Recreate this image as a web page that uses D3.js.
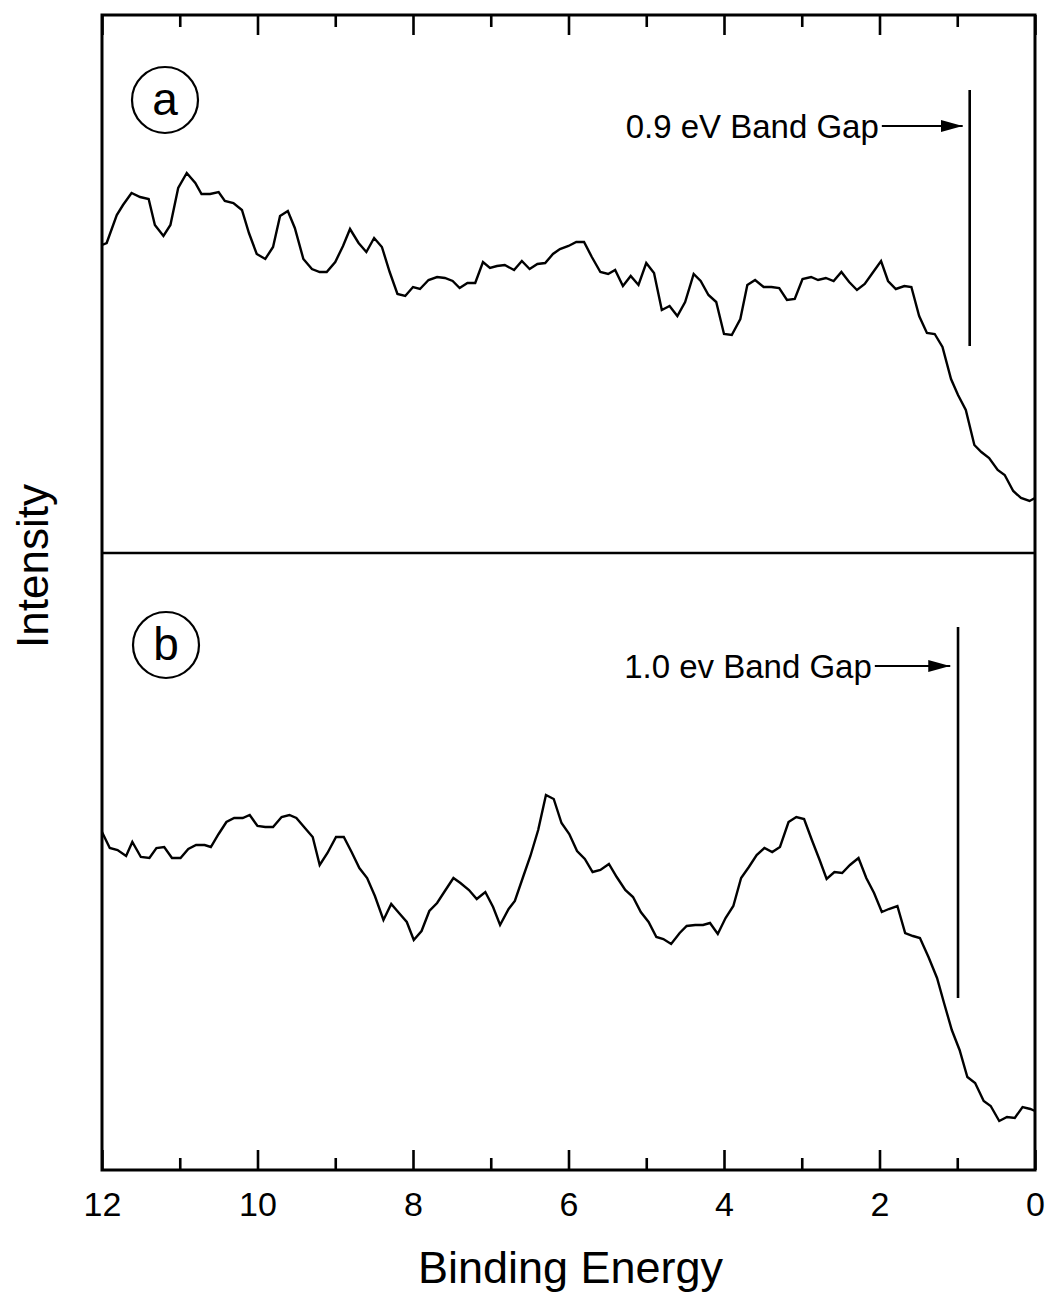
<!DOCTYPE html>
<html>
<head>
<meta charset="utf-8">
<script src="https://cdn.jsdelivr.net/npm/d3@7"></script>
<style>
  html, body { margin: 0; padding: 0; background: #fff; }
  svg { display: block; }
  text { font-family: "Liberation Sans", Arial, Helvetica, sans-serif; fill: #000; }
</style>
</head>
<body>
<svg id="chart" width="1052" height="1300"></svg>
<script>
// ---- Data (binding energy in eV, intensity in arbitrary units) ----
const energyA = [12.0,11.94,11.81,11.73,11.62,11.51,11.40,11.32,11.21,11.12,11.02,10.91,10.80,10.72,10.61,10.50,10.42,10.31,10.20,10.11,10.01,9.90,9.80,9.71,9.61,9.52,9.41,9.30,9.20,9.11,9.00,8.90,8.81,8.70,8.60,8.50,8.40,8.30,8.20,8.10,8.00,7.91,7.80,7.69,7.59,7.49,7.40,7.30,7.20,7.10,7.01,6.92,6.82,6.70,6.60,6.50,6.40,6.30,6.20,6.11,6.00,5.90,5.80,5.70,5.59,5.49,5.40,5.30,5.20,5.10,5.00,4.90,4.80,4.70,4.60,4.50,4.39,4.30,4.20,4.10,4.00,3.90,3.79,3.70,3.60,3.49,3.39,3.29,3.19,3.09,2.99,2.88,2.79,2.69,2.59,2.49,2.39,2.29,2.19,2.09,1.98,1.89,1.79,1.68,1.59,1.49,1.39,1.29,1.19,1.08,0.99,0.89,0.78,0.69,0.59,0.48,0.39,0.28,0.18,0.07,0.0];
const intensityA = [308,310,338,348,360,356,354,328,317,328,365,380,370,359,359,361,352,350,343,320,299,294,306,337,342,325,294,284,281,281,291,307,324,310,301,315,306,281,259,257,266,264,273,276,275,272,265,270,270,291,285,287,288,283,292,284,289,290,299,304,307,311,311,296,281,279,283,267,277,268,290,280,243,247,237,251,279,272,258,251,219,218,234,268,273,266,266,265,253,254,274,276,273,275,272,281,271,263,269,280,292,272,264,267,266,237,220,219,206,174,158,143,108,101,95,83,78,62,55,52,55];

const energyB = [12.0,11.90,11.80,11.69,11.61,11.50,11.39,11.30,11.20,11.10,10.99,10.89,10.79,10.68,10.60,10.50,10.40,10.30,10.19,10.10,10.00,9.90,9.80,9.69,9.59,9.50,9.39,9.29,9.20,9.10,8.99,8.89,8.79,8.69,8.59,8.49,8.38,8.28,8.18,8.08,7.99,7.89,7.79,7.69,7.59,7.48,7.39,7.28,7.18,7.07,6.97,6.88,6.77,6.69,6.58,6.49,6.39,6.29,6.19,6.09,5.99,5.89,5.79,5.69,5.59,5.48,5.38,5.27,5.17,5.07,4.97,4.87,4.78,4.68,4.57,4.48,4.37,4.27,4.18,4.08,3.98,3.88,3.78,3.68,3.58,3.48,3.38,3.28,3.17,3.07,2.97,2.87,2.77,2.68,2.58,2.48,2.38,2.27,2.17,2.07,1.97,1.88,1.77,1.67,1.57,1.48,1.37,1.26,1.17,1.07,0.97,0.87,0.77,0.66,0.57,0.46,0.36,0.26,0.16,0.06,0.0];
const intensityB = [338,322,320,314,328,313,312,322,323,312,312,321,325,325,323,336,348,352,352,355,344,343,343,353,355,352,342,333,305,317,333,333,318,302,292,274,250,266,257,248,230,239,259,267,279,292,287,280,271,278,263,245,261,269,294,314,340,375,371,347,336,319,311,298,300,306,293,280,273,258,248,233,231,226,237,244,245,245,247,236,252,264,292,303,315,322,318,323,348,353,351,330,310,291,298,297,305,312,292,277,258,261,264,237,234,232,213,192,167,140,120,93,87,69,64,49,53,52,63,61,59];

const xTicksMajor = [12, 10, 8, 6, 4, 2, 0];
const xTicksMinor = [11, 9, 7, 5, 3, 1];
const xTickLabels = ["12", "10", "8", "6", "4", "2", "0"];
const xTitle = "Binding Energy";
const yTitle = "Intensity";
const panelLabels = ["a", "b"];
const gapLabels = ["0.9 eV Band Gap", "1.0 ev Band Gap"];
// band gap markers: vertical line energy/extent, arrow level and span (same units as the data)
const gapA = { e: 0.84, top: 463, bottom: 207, arrowY: 427, arrowFrom: 1.97, arrowTo: 0.93 };
const gapB = { e: 0.99, top: 543, bottom: 172, arrowY: 504, arrowFrom: 2.06, arrowTo: 1.09 };

// ---- Layout ----
const L = 102, R = 1035, T = 15, B = 1170, MID = 553;
const svg = d3.select("#chart");

svg.append("defs").append("marker")
  .attr("id", "arrow").attr("viewBox", "0 0 22 12")
  .attr("refX", 22).attr("refY", 6)
  .attr("markerWidth", 22).attr("markerHeight", 12)
  .attr("markerUnits", "userSpaceOnUse")
  .attr("orient", "auto")
  .append("path").attr("d", "M0,0 L22,6 L0,12 z").attr("fill", "#000");

const x = d3.scaleLinear().domain([12, 0]).range([L, R]);
const yA = d3.scaleLinear().domain([0, 538]).range([MID, T]);
const yB = d3.scaleLinear().domain([0, 617]).range([B, MID]);

// Axes: major ticks with labels and minor ticks, bottom and top
const bottomMajor = svg.append("g").attr("transform", `translate(0,${B})`)
  .call(d3.axisBottom(x).tickValues(xTicksMajor).tickSizeInner(-20).tickSizeOuter(0).tickPadding(22)
    .tickFormat((d, i) => xTickLabels[i]));
const bottomMinor = svg.append("g").attr("transform", `translate(0,${B})`)
  .call(d3.axisBottom(x).tickValues(xTicksMinor).tickSizeInner(-12).tickSizeOuter(0).tickFormat(""));
const topMajor = svg.append("g").attr("transform", `translate(0,${T})`)
  .call(d3.axisTop(x).tickValues(xTicksMajor).tickSizeInner(-20).tickSizeOuter(0).tickFormat(""));
const topMinor = svg.append("g").attr("transform", `translate(0,${T})`)
  .call(d3.axisTop(x).tickValues(xTicksMinor).tickSizeInner(-12).tickSizeOuter(0).tickFormat(""));

[bottomMajor, bottomMinor, topMajor, topMinor].forEach(g => {
  g.select(".domain").remove();
  g.selectAll(".tick line").attr("stroke", "#000").attr("stroke-width", 2.6);
});
bottomMajor.selectAll(".tick text")
  .attr("font-size", 34).attr("font-family", "Liberation Sans, Arial, sans-serif").attr("fill", "#000");

// Frame
svg.append("rect").attr("x", L).attr("y", T).attr("width", R - L).attr("height", B - T)
  .attr("fill", "none").attr("stroke", "#000").attr("stroke-width", 3);
// Separator between panels
svg.append("line").attr("x1", L).attr("x2", R).attr("y1", MID).attr("y2", MID)
  .attr("stroke", "#000").attr("stroke-width", 2.6);

// Curves
function drawCurve(energy, intensity, y) {
  const pts = energy.map((e, i) => [e, intensity[i]]);
  svg.append("path").datum(pts)
    .attr("fill", "none").attr("stroke", "#000").attr("stroke-width", 2.4)
    .attr("stroke-linejoin", "miter")
    .attr("d", d3.line().x(d => x(d[0])).y(d => y(d[1])));
}
drawCurve(energyA, intensityA, yA);
drawCurve(energyB, intensityB, yB);

// Band gap markers
function drawGap(g, y, label) {
  svg.append("line").attr("x1", x(g.e)).attr("x2", x(g.e))
    .attr("y1", y(g.top)).attr("y2", y(g.bottom))
    .attr("stroke", "#000").attr("stroke-width", 2.6);
  svg.append("line").attr("x1", x(g.arrowFrom)).attr("x2", x(g.arrowTo))
    .attr("y1", y(g.arrowY)).attr("y2", y(g.arrowY))
    .attr("stroke", "#000").attr("stroke-width", 2.2)
    .attr("marker-end", "url(#arrow)");
  svg.append("text").attr("x", x(g.arrowFrom) - 3).attr("y", y(g.arrowY) + 12)
    .attr("text-anchor", "end").attr("font-size", 33).text(label);
}
drawGap(gapA, yA, gapLabels[0]);
drawGap(gapB, yB, gapLabels[1]);

// Panel labels in circles
function drawPanelLabel(cx, cy, label) {
  svg.append("circle").attr("cx", cx).attr("cy", cy).attr("r", 33)
    .attr("fill", "none").attr("stroke", "#000").attr("stroke-width", 2.2);
  svg.append("text").attr("x", cx).attr("y", cy + 15)
    .attr("text-anchor", "middle").attr("font-size", 46).text(label);
}
drawPanelLabel(165, 100, panelLabels[0]);
drawPanelLabel(166, 645, panelLabels[1]);

// Axis titles
svg.append("text").attr("x", (L + R) / 2 + 2).attr("y", 1283)
  .attr("text-anchor", "middle").attr("font-size", 45).text(xTitle);
svg.append("text").attr("transform", "translate(48,566) rotate(-90)")
  .attr("text-anchor", "middle").attr("font-size", 44).text(yTitle);
</script>
</body>
</html>
